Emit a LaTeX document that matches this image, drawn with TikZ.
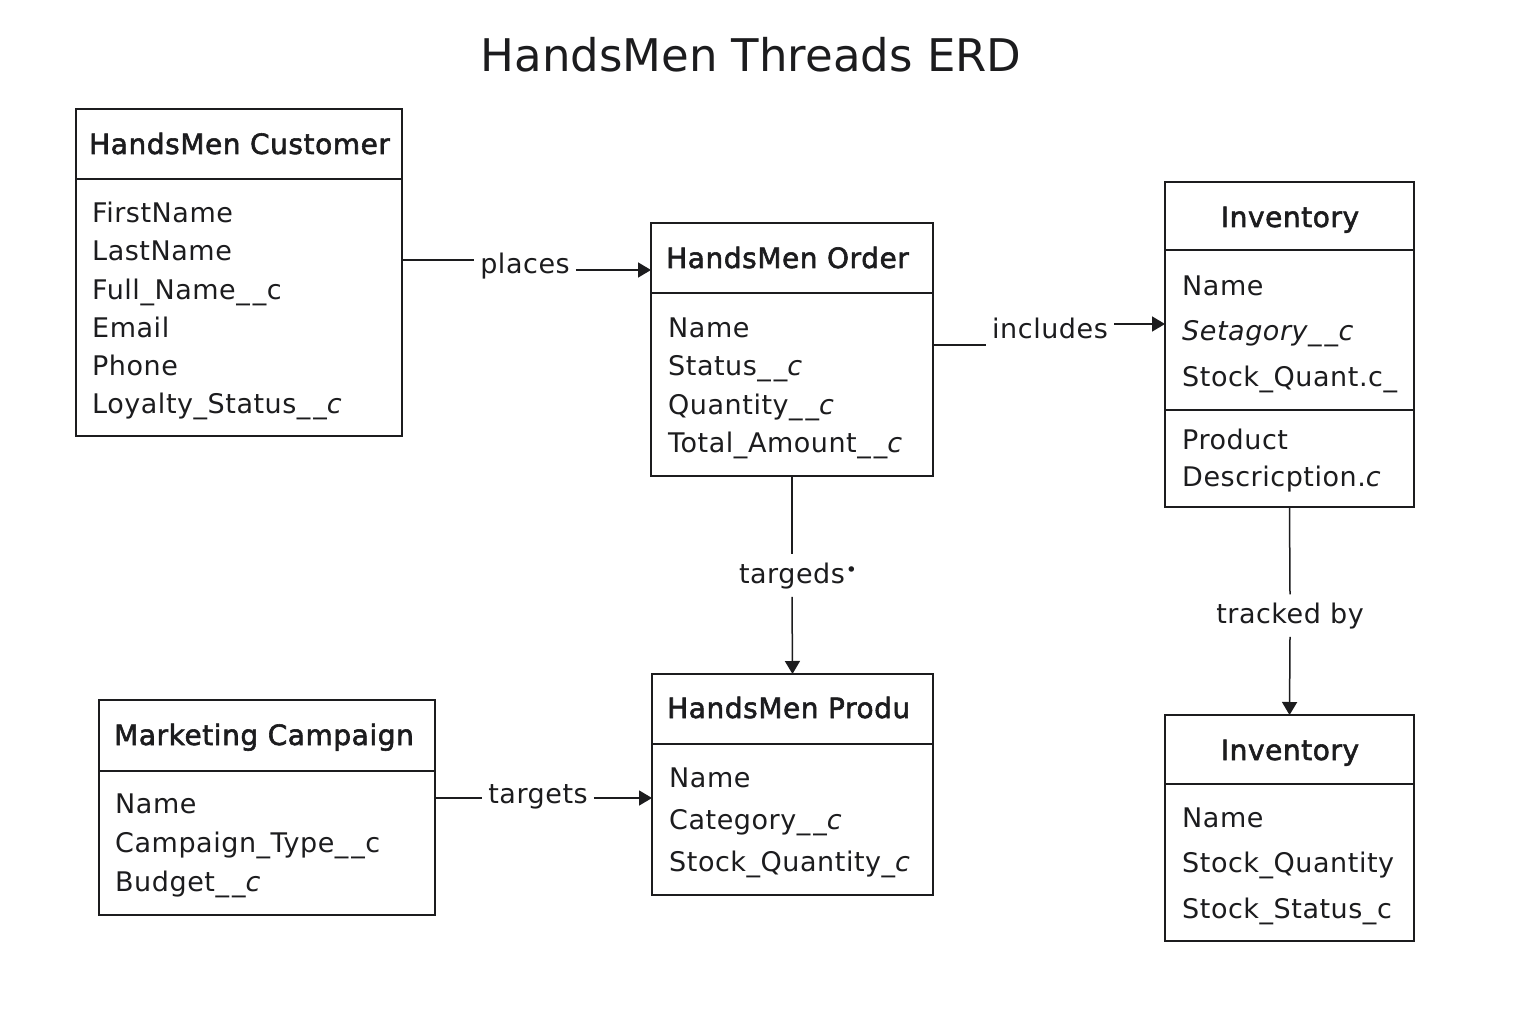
\documentclass[tikz,border=0pt]{standalone}
\usepackage{fontspec}
\setmainfont{DejaVu Sans}[LetterSpace=2]
\usepackage{xcolor}
\usetikzlibrary{arrows.meta,positioning}

\definecolor{ink}{HTML}{1C1C1E}
\newcommand{\titlefont}{\fontsize{45}{56}\selectfont\addfontfeature{LetterSpace=0}}
\newcommand{\headfont}{\fontsize{28}{32}\selectfont\addfontfeature{FakeBold=2}}
\newcommand{\attrfont}{\fontsize{27}{31}\selectfont}
\newcommand{\us}{\_\kern3pt\_}
\newcommand{\ic}{\textit{c}}

\tikzset{
  ebox/.style={draw=ink, line width=1.8pt, outer sep=0pt, inner sep=0pt},
  hdr/.style={font=\headfont, text=ink, inner sep=0pt},
  attr/.style={font=\attrfont, text=ink, anchor=base west, inner sep=0pt},
  rel/.style={font=\attrfont, text=ink, inner xsep=6pt, inner ysep=8pt},
  conn/.style={draw=ink, line width=1.5pt},
  arr/.style={conn, -{Triangle[length=13pt,width=15pt]}}
}

\begin{document}
\begin{tikzpicture}[x=1pt,y=-1pt]
  \fill[white] (0,0) rectangle (1536,1024);
  \useasboundingbox (0,0) rectangle (1536,1024);

  \node[font=\titlefont, text=ink, anchor=base] (title) at (751,72) {HandsMen Threads ERD};

  % customer
  \node[ebox, minimum width=326, minimum height=70] (custH) at (239,144) {};
  \node[ebox, minimum width=326, minimum height=257, below=0pt of custH] (custB) {};
  \node[hdr, anchor=base west] (custT) at (89,154) {HandsMen Customer};
  \foreach \a [count=\i from 0] in {FirstName, LastName, Full\_Name\us c, Email, Phone, Loyalty\_Status\us\ic}
    \node[attr] (cust-\i) at (92,223+38*\i) {\a};

  % order
  \node[ebox, minimum width=282, minimum height=70] (ordH) at (792,258) {};
  \node[ebox, minimum width=282, minimum height=183, below=0pt of ordH] (ordB) {};
  \node[hdr, anchor=base west] (ordT) at (666,268) {HandsMen Order};
  \foreach \a [count=\i from 0] in {Name, Status\us\ic, Quantity\us\ic, Total\_Amount\us\ic}
    \node[attr] (ord-\i) at (668,337+38.5*\i) {\a};

  % inventory (top)
  \node[ebox, minimum width=249, minimum height=68] (invH) at (1289.5,216) {};
  \node[ebox, minimum width=249, minimum height=160, below=0pt of invH] (invB) {};
  \node[ebox, minimum width=249, minimum height=97, below=0pt of invB] (invC) {};
  \node[hdr, anchor=base] (invT) at (1290,227) {Inventory};
  \foreach \a [count=\i from 0] in {Name, \textit{Setagory\us c}, Stock\_Quant.c\_}
    \node[attr] (inv-\i) at (1182,295+45.5*\i) {\a};
  \foreach \a [count=\i from 0] in {Product, Descricption.\ic}
    \node[attr] (invd-\i) at (1182,449+37*\i) {\a};

  % product
  \node[ebox, minimum width=281, minimum height=70] (prodH) at (792.5,709) {};
  \node[ebox, minimum width=281, minimum height=151, below=0pt of prodH] (prodB) {};
  \node[hdr, anchor=base west] (prodT) at (667,718) {HandsMen Produ};
  \foreach \a [count=\i from 0] in {Name, Category\us\ic, Stock\_Quantity\_\ic}
    \node[attr] (prod-\i) at (669,787+42*\i) {\a};

  % marketing campaign
  \node[ebox, minimum width=336, minimum height=71] (mktH) at (267,735.5) {};
  \node[ebox, minimum width=336, minimum height=144, below=0pt of mktH] (mktB) {};
  \node[hdr, anchor=base west] (mktT) at (114,745) {Marketing Campaign};
  \foreach \a [count=\i from 0] in {Name, Campaign\_Type\us c, Budget\us\ic}
    \node[attr] (mkt-\i) at (115,813+39*\i) {\a};

  % inventory (bottom)
  \node[ebox, minimum width=249, minimum height=69] (stkH) at (1289.5,749.5) {};
  \node[ebox, minimum width=249, minimum height=157, below=0pt of stkH] (stkB) {};
  \node[hdr, anchor=base] (stkT) at (1290,760) {Inventory};
  \foreach \a [count=\i from 0] in {Name, Stock\_Quantity, Stock\_Status\_c}
    \node[attr] (stk-\i) at (1182,827+45.5*\i) {\a};

  % relation labels
  \node[rel, anchor=base] (lplaces) at (525,273) {places};
  \node[rel, anchor=base] (lincl) at (1050,338) {includes};
  \node[rel, anchor=base] (ltargeds) at (792,583) {targeds\rlap{\kern1pt\raisebox{0.45ex}{\scalebox{0.7}{•}}}};
  \node[rel, anchor=base] (ltrack) at (1290,623) {tracked by};
  \node[rel, anchor=base] (ltargets) at (538,803) {targets};

  % connectors
  \draw[conn] (custB.east |- 0,260) -- (lplaces.west |- 0,260);
  \draw[arr] (lplaces.east |- 0,270) -- (ordH.west |- 0,270);
  \draw[conn] (ordB.east |- 0,345) -- (lincl.west |- 0,345);
  \draw[arr] (lincl.east |- 0,324) -- (invB.west |- 0,324);
  \draw[conn] (ordB.south) -- (ltargeds.north);
  \draw[arr] (ltargeds.south) -- (prodH.north);
  \draw[conn] (invC.south) -- (ltrack.north);
  \draw[arr] (ltrack.south) -- (stkH.north);
  \draw[conn] (mktB.east |- 0,798) -- (ltargets.west |- 0,798);
  \draw[arr] (ltargets.east |- 0,798) -- (prodB.west |- 0,798);
\end{tikzpicture}
\end{document}
